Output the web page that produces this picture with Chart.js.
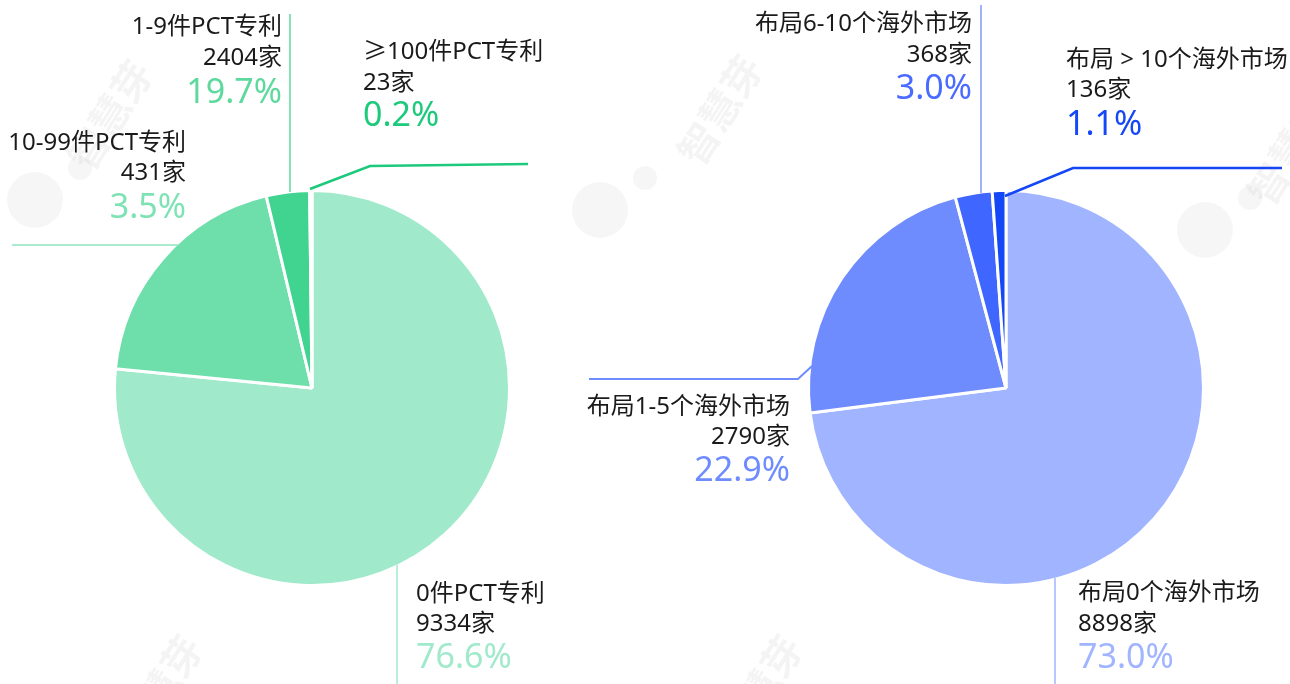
<!DOCTYPE html>
<html><head><meta charset="utf-8">
<script src="https://cdn.jsdelivr.net/npm/chart.js@4.4.1/dist/chart.umd.min.js"></script>
<style>
html,body{margin:0;padding:0;background:#fff;overflow:hidden}
#wrap{position:relative;width:1290px;height:684px}
canvas{position:absolute;left:0;top:0}
</style></head>
<body><div id="wrap"><canvas id="c1" width="1290" height="684"></canvas><canvas id="c2" width="1290" height="684"></canvas></div>
<script>
// ---- data ----
const pctCategories = ['0件PCT专利', '1-9件PCT专利', '10-99件PCT专利', '≥100件PCT专利'];
const pctCounts = [9334, 2404, 431, 23];
const pctPercents = ['76.6%', '19.7%', '3.5%', '0.2%'];
const pctColors = ['#A0EACB', '#6EDFAA', '#40D490', '#1DC97B'];

const marketCategories = ['布局0个海外市场', '布局1-5个海外市场', '布局6-10个海外市场', '布局 > 10个海外市场'];
const marketCounts = [8898, 2790, 368, 136];
const marketPercents = ['73.0%', '22.9%', '3.0%', '1.1%'];
const marketColors = ['#A0B4FF', '#6F8CFF', '#3F66FF', '#1447F5'];

const FONT = "'Noto Sans', 'Noto Sans CJK SC', sans-serif";

// leader lines + text blocks, positions relative to pie centre
const pctLabels = [
  {i:0, line:[[85,177],[85,300]], lw:1.5, lc:'#A0EACB', tc:'#A0EACB', align:'left',  tx:104, ty:[206,236,270]},
  {i:1, line:[[-22,-196],[-22,-374]], lw:1.5, lc:'#5ADA9C', tc:'#5ED99E', align:'right', tx:-30, ty:[-361,-330,-295]},
  {i:2, line:[[-134,-143],[-300,-143]], lw:1.5, lc:'#8FE6C0', tc:'#7FE2B5', align:'right', tx:-126, ty:[-245,-215,-180]},
  {i:3, line:[[-2,-199],[58,-222],[216,-224]], lw:2.5, lc:'#1DC97B', tc:'#1DC97B', align:'left', tx:51, ty:[-336,-305,-272]}
];
const marketLabels = [
  {i:0, line:[[49,190],[49,300]], lw:1.5, lc:'#A0B4FF', tc:'#A0B4FF', align:'left', tx:72, ty:[205,236,270]},
  {i:1, line:[[-194,-22],[-208,-9],[-417,-9]], lw:2, lc:'#6F8CFF', tc:'#6F8CFF', align:'right', tx:-216, ty:[19,49,83]},
  {i:2, line:[[-25,-195],[-25,-383]], lw:1, lc:'#3F66FF', tc:'#4A6BFF', align:'right', tx:-34, ty:[-364,-333,-299]},
  {i:3, line:[[-1,-192],[67,-220],[276,-220]], lw:2.5, lc:'#1447F5', tc:'#1447F5', align:'left', tx:60, ty:[-328,-298,-263]}
];

const leaderPlugin = {
  id: 'leaders',
  afterDraw(chart, args, opts) {
    const arc = chart.getDatasetMeta(0).data[0];
    const cx = arc.x, cy = arc.y;
    const ctx = chart.ctx;
    ctx.save();
    opts.items.forEach(it => {
      ctx.beginPath();
      it.line.forEach((p, k) => { k ? ctx.lineTo(cx + p[0], cy + p[1]) : ctx.moveTo(cx + p[0], cy + p[1]); });
      ctx.strokeStyle = it.lc; ctx.lineWidth = it.lw; ctx.lineJoin = 'miter';
      ctx.stroke();
      ctx.textAlign = it.align; ctx.textBaseline = 'middle';
      const x = cx + it.tx;
      ctx.fillStyle = '#1a1a1a';
      ctx.font = '24px ' + FONT;
      ctx.fillText(opts.cats[it.i], x, cy + it.ty[0]);
      ctx.fillText(opts.counts[it.i] + '家', x, cy + it.ty[1]);
      ctx.fillStyle = it.tc;
      ctx.font = '34px ' + FONT;
      ctx.fillText(opts.pcts[it.i], x, cy + it.ty[2]);
    });
    ctx.restore();
  }
};

const watermarkPlugin = {
  id: 'watermark',
  beforeDraw(chart) {
    const ctx = chart.ctx;
    ctx.save();
    const spots = [[110,115],[720,110],[1290,150],[160,690],[760,690]];
    ctx.fillStyle = 'rgba(0,0,0,0.045)';
    ctx.font = "bold 40px 'Noto Sans CJK SC', sans-serif";
    ctx.textAlign = 'center'; ctx.textBaseline = 'middle';
    spots.forEach(s => {
      ctx.save(); ctx.translate(s[0], s[1]); ctx.rotate(-Math.PI * 0.32);
      ctx.fillText('智慧芽', 0, 0); ctx.restore();
    });
    ctx.fillStyle = 'rgba(0,0,0,0.035)';
    const blobs = [[35,200],[600,210],[1205,230]];
    blobs.forEach(b => {
      ctx.beginPath(); ctx.arc(b[0], b[1], 28, 0, Math.PI*2); ctx.fill();
      ctx.beginPath(); ctx.arc(b[0]+45, b[1]-32, 12, 0, Math.PI*2); ctx.fill();
    });
    ctx.restore();
  }
};

function makePie(id, counts, colors, cats, pcts, items, cxp, wm) {
  const pad = {left: cxp - 200, right: 1290 - (cxp + 200), top: 188, bottom: 96};
  return new Chart(document.getElementById(id), {
    type: 'pie',
    data: { labels: cats, datasets: [{ data: counts, backgroundColor: colors, borderColor: '#ffffff', borderWidth: 3 }] },
    options: {
      responsive: false, animation: false, radius: 197.5,
      layout: { padding: pad },
      plugins: { legend: {display: false}, tooltip: {enabled: false},
        leaders: { items, cats, counts, pcts } }
    },
    plugins: wm ? [watermarkPlugin, leaderPlugin] : [leaderPlugin]
  });
}

makePie('c1', pctCounts, pctColors, pctCategories, pctPercents, pctLabels, 312, true);
makePie('c2', marketCounts, marketColors, marketCategories, marketPercents, marketLabels, 1006, false);
</script>
</body></html>
